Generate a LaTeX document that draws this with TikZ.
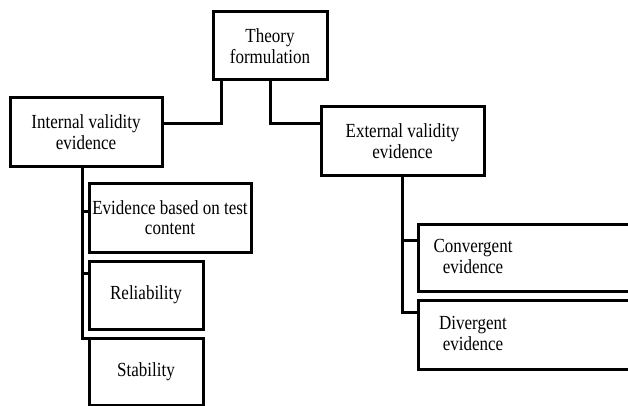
\documentclass[tikz,border=0pt]{standalone}
\usepackage{fontspec}
\setmainfont{Liberation Serif}[FakeStretch=0.85]

\begin{document}
\begin{tikzpicture}[x=1pt,y=-1pt,line join=miter,
    font=\fontsize{20}{20.5}\selectfont,
    box/.style={draw,line width=3pt,inner sep=0pt,align=center,minimum height=68pt},
    openbox/.style={draw,line width=3pt,inner sep=0pt,anchor=north west,minimum width=223pt},
    link/.style={line width=3pt}]
  \useasboundingbox (0,0) rectangle (628,406);
  \node[box,minimum width=114pt] (theory) at (270,46) {Theory\\formulation};
  \node[box,minimum width=152pt] (internal) at (86,132) {Internal validity\\evidence};
  \node[box,minimum width=163pt] (external) at (402.5,141) {External validity\\evidence};
  \node[box,minimum width=162pt,minimum height=69pt] (evid) at (170,217.5) {Evidence based on test\\content};
  \node[box,minimum width=114pt] (rel) at (146,295) {Reliability};
  \node[box,minimum width=114pt,minimum height=67pt] (stab) at (146,371.5) {Stability};
  \node[openbox,minimum height=67pt] (conv) at (417,223) {};
  \node[openbox,minimum height=69pt] (div) at (417,299) {};
  \node[align=center] (convtext) at (473,256.5) {Convergent\\evidence};
  \node[align=center] (divtext) at (473,333.5) {Divergent\\evidence};
  \draw[link] ([xshift=10pt]theory.south west) |- ([yshift=8pt]internal.east);
  \draw[link] (theory.south) |- ([yshift=17pt]external.west);
  \draw[link] ([xshift=-4pt]internal.south) |- ([yshift=6.5pt]evid.west);
  \draw[link] ([xshift=-4pt]internal.south) |- ([yshift=22pt]rel.west);
  \draw[link] ([xshift=-4pt]internal.south) |- ([yshift=-2pt]stab.north west);
  \draw[link] (external.south) |- ([yshift=17.5pt]conv.west);
  \draw[link] (external.south) |- ([yshift=23pt]div.west);
\end{tikzpicture}
\end{document}
